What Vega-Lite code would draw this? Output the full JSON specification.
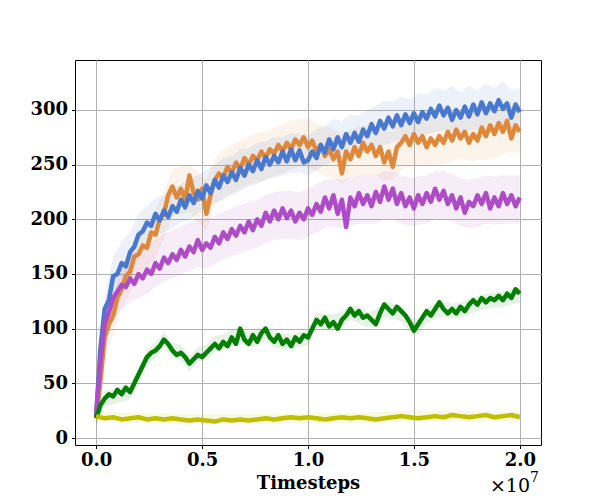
{
  "$schema": "https://vega.github.io/schema/vega-lite/v6.json",
  "width": 466,
  "height": 385,
  "autosize": "none",
  "padding": {"left": 75, "top": 60, "right": 59, "bottom": 55},
  "background": "white",
  "datasets": {
    "lines": [
      {"s":"s1","t":0,"v":18},{"s":"s1","t":0.02,"v":52},{"s":"s1","t":0.04,"v":92},{"s":"s1","t":0.06,"v":104},{"s":"s1","t":0.08,"v":112},{"s":"s1","t":0.1,"v":128},{"s":"s1","t":0.12,"v":136},{"s":"s1","t":0.14,"v":148},{"s":"s1","t":0.16,"v":152},{"s":"s1","t":0.18,"v":166},
      {"s":"s1","t":0.2,"v":168},{"s":"s1","t":0.22,"v":176},{"s":"s1","t":0.24,"v":174},{"s":"s1","t":0.26,"v":188},{"s":"s1","t":0.28,"v":186},{"s":"s1","t":0.3,"v":200},{"s":"s1","t":0.32,"v":205},{"s":"s1","t":0.34,"v":222},{"s":"s1","t":0.36,"v":230},{"s":"s1","t":0.38,"v":220},
      {"s":"s1","t":0.4,"v":228},{"s":"s1","t":0.42,"v":218},{"s":"s1","t":0.44,"v":240},{"s":"s1","t":0.46,"v":224},{"s":"s1","t":0.48,"v":218},{"s":"s1","t":0.5,"v":228},{"s":"s1","t":0.52,"v":205},{"s":"s1","t":0.54,"v":222},{"s":"s1","t":0.56,"v":236},{"s":"s1","t":0.58,"v":242},
      {"s":"s1","t":0.6,"v":238},{"s":"s1","t":0.62,"v":248},{"s":"s1","t":0.64,"v":242},{"s":"s1","t":0.66,"v":252},{"s":"s1","t":0.68,"v":246},{"s":"s1","t":0.7,"v":256},{"s":"s1","t":0.72,"v":250},{"s":"s1","t":0.74,"v":258},{"s":"s1","t":0.76,"v":254},{"s":"s1","t":0.78,"v":262},
      {"s":"s1","t":0.8,"v":256},{"s":"s1","t":0.82,"v":264},{"s":"s1","t":0.84,"v":260},{"s":"s1","t":0.86,"v":268},{"s":"s1","t":0.88,"v":262},{"s":"s1","t":0.9,"v":270},{"s":"s1","t":0.92,"v":264},{"s":"s1","t":0.94,"v":273},{"s":"s1","t":0.96,"v":268},{"s":"s1","t":0.98,"v":275},
      {"s":"s1","t":1,"v":266},{"s":"s1","t":1.02,"v":272},{"s":"s1","t":1.04,"v":262},{"s":"s1","t":1.06,"v":268},{"s":"s1","t":1.08,"v":258},{"s":"s1","t":1.1,"v":264},{"s":"s1","t":1.12,"v":255},{"s":"s1","t":1.14,"v":262},{"s":"s1","t":1.16,"v":242},{"s":"s1","t":1.18,"v":262},
      {"s":"s1","t":1.2,"v":255},{"s":"s1","t":1.22,"v":266},{"s":"s1","t":1.24,"v":258},{"s":"s1","t":1.26,"v":270},{"s":"s1","t":1.28,"v":262},{"s":"s1","t":1.3,"v":268},{"s":"s1","t":1.32,"v":258},{"s":"s1","t":1.34,"v":266},{"s":"s1","t":1.36,"v":252},{"s":"s1","t":1.38,"v":262},
      {"s":"s1","t":1.4,"v":248},{"s":"s1","t":1.42,"v":266},{"s":"s1","t":1.44,"v":270},{"s":"s1","t":1.46,"v":276},{"s":"s1","t":1.48,"v":268},{"s":"s1","t":1.5,"v":278},{"s":"s1","t":1.52,"v":270},{"s":"s1","t":1.54,"v":276},{"s":"s1","t":1.56,"v":266},{"s":"s1","t":1.58,"v":274},
      {"s":"s1","t":1.6,"v":268},{"s":"s1","t":1.62,"v":276},{"s":"s1","t":1.64,"v":270},{"s":"s1","t":1.66,"v":280},{"s":"s1","t":1.68,"v":272},{"s":"s1","t":1.7,"v":282},{"s":"s1","t":1.72,"v":274},{"s":"s1","t":1.74,"v":280},{"s":"s1","t":1.76,"v":270},{"s":"s1","t":1.78,"v":278},
      {"s":"s1","t":1.8,"v":272},{"s":"s1","t":1.82,"v":284},{"s":"s1","t":1.84,"v":276},{"s":"s1","t":1.86,"v":286},{"s":"s1","t":1.88,"v":278},{"s":"s1","t":1.9,"v":288},{"s":"s1","t":1.92,"v":280},{"s":"s1","t":1.94,"v":290},{"s":"s1","t":1.96,"v":274},{"s":"s1","t":1.98,"v":286},
      {"s":"s1","t":2,"v":280},

      {"s":"s2","t":0,"v":20},{"s":"s2","t":0.02,"v":82},{"s":"s2","t":0.04,"v":118},{"s":"s2","t":0.06,"v":126},{"s":"s2","t":0.08,"v":148},{"s":"s2","t":0.1,"v":150},{"s":"s2","t":0.12,"v":160},{"s":"s2","t":0.14,"v":157},{"s":"s2","t":0.16,"v":170},{"s":"s2","t":0.18,"v":175},
      {"s":"s2","t":0.2,"v":186},{"s":"s2","t":0.22,"v":189},{"s":"s2","t":0.24,"v":197},{"s":"s2","t":0.26,"v":194},{"s":"s2","t":0.28,"v":205},{"s":"s2","t":0.3,"v":199},{"s":"s2","t":0.32,"v":208},{"s":"s2","t":0.34,"v":202},{"s":"s2","t":0.36,"v":212},{"s":"s2","t":0.38,"v":207},
      {"s":"s2","t":0.4,"v":218},{"s":"s2","t":0.42,"v":211},{"s":"s2","t":0.44,"v":222},{"s":"s2","t":0.46,"v":215},{"s":"s2","t":0.48,"v":226},{"s":"s2","t":0.5,"v":219},{"s":"s2","t":0.52,"v":231},{"s":"s2","t":0.54,"v":224},{"s":"s2","t":0.56,"v":236},{"s":"s2","t":0.58,"v":229},
      {"s":"s2","t":0.6,"v":240},{"s":"s2","t":0.62,"v":234},{"s":"s2","t":0.64,"v":243},{"s":"s2","t":0.66,"v":236},{"s":"s2","t":0.68,"v":247},{"s":"s2","t":0.7,"v":240},{"s":"s2","t":0.72,"v":250},{"s":"s2","t":0.74,"v":244},{"s":"s2","t":0.76,"v":254},{"s":"s2","t":0.78,"v":246},
      {"s":"s2","t":0.8,"v":257},{"s":"s2","t":0.82,"v":250},{"s":"s2","t":0.84,"v":258},{"s":"s2","t":0.86,"v":252},{"s":"s2","t":0.88,"v":262},{"s":"s2","t":0.9,"v":253},{"s":"s2","t":0.92,"v":264},{"s":"s2","t":0.94,"v":254},{"s":"s2","t":0.96,"v":263},{"s":"s2","t":0.98,"v":252},
      {"s":"s2","t":1,"v":254},{"s":"s2","t":1.02,"v":262},{"s":"s2","t":1.04,"v":256},{"s":"s2","t":1.06,"v":268},{"s":"s2","t":1.08,"v":261},{"s":"s2","t":1.1,"v":273},{"s":"s2","t":1.12,"v":264},{"s":"s2","t":1.14,"v":275},{"s":"s2","t":1.16,"v":266},{"s":"s2","t":1.18,"v":278},
      {"s":"s2","t":1.2,"v":270},{"s":"s2","t":1.22,"v":279},{"s":"s2","t":1.24,"v":271},{"s":"s2","t":1.26,"v":282},{"s":"s2","t":1.28,"v":276},{"s":"s2","t":1.3,"v":287},{"s":"s2","t":1.32,"v":279},{"s":"s2","t":1.34,"v":290},{"s":"s2","t":1.36,"v":283},{"s":"s2","t":1.38,"v":293},
      {"s":"s2","t":1.4,"v":285},{"s":"s2","t":1.42,"v":295},{"s":"s2","t":1.44,"v":286},{"s":"s2","t":1.46,"v":296},{"s":"s2","t":1.48,"v":288},{"s":"s2","t":1.5,"v":297},{"s":"s2","t":1.52,"v":289},{"s":"s2","t":1.54,"v":298},{"s":"s2","t":1.56,"v":292},{"s":"s2","t":1.58,"v":301},
      {"s":"s2","t":1.6,"v":294},{"s":"s2","t":1.62,"v":304},{"s":"s2","t":1.64,"v":295},{"s":"s2","t":1.66,"v":302},{"s":"s2","t":1.68,"v":291},{"s":"s2","t":1.7,"v":300},{"s":"s2","t":1.72,"v":293},{"s":"s2","t":1.74,"v":303},{"s":"s2","t":1.76,"v":294},{"s":"s2","t":1.78,"v":305},
      {"s":"s2","t":1.8,"v":296},{"s":"s2","t":1.82,"v":307},{"s":"s2","t":1.84,"v":297},{"s":"s2","t":1.86,"v":306},{"s":"s2","t":1.88,"v":299},{"s":"s2","t":1.9,"v":309},{"s":"s2","t":1.92,"v":301},{"s":"s2","t":1.94,"v":306},{"s":"s2","t":1.96,"v":293},{"s":"s2","t":1.98,"v":305},
      {"s":"s2","t":2,"v":298},

      {"s":"s3","t":0,"v":22},{"s":"s3","t":0.02,"v":70},{"s":"s3","t":0.04,"v":104},{"s":"s3","t":0.06,"v":115},{"s":"s3","t":0.08,"v":128},{"s":"s3","t":0.1,"v":134},{"s":"s3","t":0.12,"v":140},{"s":"s3","t":0.14,"v":138},{"s":"s3","t":0.16,"v":146},{"s":"s3","t":0.18,"v":141},
      {"s":"s3","t":0.2,"v":150},{"s":"s3","t":0.22,"v":146},{"s":"s3","t":0.24,"v":154},{"s":"s3","t":0.26,"v":150},{"s":"s3","t":0.28,"v":160},{"s":"s3","t":0.3,"v":155},{"s":"s3","t":0.32,"v":165},{"s":"s3","t":0.34,"v":160},{"s":"s3","t":0.36,"v":168},{"s":"s3","t":0.38,"v":163},
      {"s":"s3","t":0.4,"v":172},{"s":"s3","t":0.42,"v":166},{"s":"s3","t":0.44,"v":175},{"s":"s3","t":0.46,"v":170},{"s":"s3","t":0.48,"v":181},{"s":"s3","t":0.5,"v":172},{"s":"s3","t":0.52,"v":178},{"s":"s3","t":0.54,"v":174},{"s":"s3","t":0.56,"v":184},{"s":"s3","t":0.58,"v":178},
      {"s":"s3","t":0.6,"v":188},{"s":"s3","t":0.62,"v":182},{"s":"s3","t":0.64,"v":191},{"s":"s3","t":0.66,"v":185},{"s":"s3","t":0.68,"v":194},{"s":"s3","t":0.7,"v":188},{"s":"s3","t":0.72,"v":198},{"s":"s3","t":0.74,"v":190},{"s":"s3","t":0.76,"v":200},{"s":"s3","t":0.78,"v":194},
      {"s":"s3","t":0.8,"v":206},{"s":"s3","t":0.82,"v":198},{"s":"s3","t":0.84,"v":208},{"s":"s3","t":0.86,"v":200},{"s":"s3","t":0.88,"v":210},{"s":"s3","t":0.9,"v":201},{"s":"s3","t":0.92,"v":208},{"s":"s3","t":0.94,"v":198},{"s":"s3","t":0.96,"v":206},{"s":"s3","t":0.98,"v":200},
      {"s":"s3","t":1,"v":210},{"s":"s3","t":1.02,"v":204},{"s":"s3","t":1.04,"v":214},{"s":"s3","t":1.06,"v":207},{"s":"s3","t":1.08,"v":220},{"s":"s3","t":1.1,"v":210},{"s":"s3","t":1.12,"v":222},{"s":"s3","t":1.14,"v":205},{"s":"s3","t":1.16,"v":218},{"s":"s3","t":1.18,"v":193},
      {"s":"s3","t":1.2,"v":220},{"s":"s3","t":1.22,"v":212},{"s":"s3","t":1.24,"v":224},{"s":"s3","t":1.26,"v":214},{"s":"s3","t":1.28,"v":222},{"s":"s3","t":1.3,"v":212},{"s":"s3","t":1.32,"v":225},{"s":"s3","t":1.34,"v":216},{"s":"s3","t":1.36,"v":230},{"s":"s3","t":1.38,"v":218},
      {"s":"s3","t":1.4,"v":228},{"s":"s3","t":1.42,"v":214},{"s":"s3","t":1.44,"v":224},{"s":"s3","t":1.46,"v":212},{"s":"s3","t":1.48,"v":220},{"s":"s3","t":1.5,"v":210},{"s":"s3","t":1.52,"v":222},{"s":"s3","t":1.54,"v":214},{"s":"s3","t":1.56,"v":224},{"s":"s3","t":1.58,"v":216},
      {"s":"s3","t":1.6,"v":228},{"s":"s3","t":1.62,"v":218},{"s":"s3","t":1.64,"v":226},{"s":"s3","t":1.66,"v":214},{"s":"s3","t":1.68,"v":222},{"s":"s3","t":1.7,"v":210},{"s":"s3","t":1.72,"v":220},{"s":"s3","t":1.74,"v":206},{"s":"s3","t":1.76,"v":216},{"s":"s3","t":1.78,"v":212},
      {"s":"s3","t":1.8,"v":222},{"s":"s3","t":1.82,"v":214},{"s":"s3","t":1.84,"v":224},{"s":"s3","t":1.86,"v":210},{"s":"s3","t":1.88,"v":220},{"s":"s3","t":1.9,"v":212},{"s":"s3","t":1.92,"v":224},{"s":"s3","t":1.94,"v":214},{"s":"s3","t":1.96,"v":222},{"s":"s3","t":1.98,"v":212},
      {"s":"s3","t":2,"v":220},

      {"s":"s4","t":0,"v":18},{"s":"s4","t":0.02,"v":30},{"s":"s4","t":0.04,"v":36},{"s":"s4","t":0.06,"v":40},{"s":"s4","t":0.08,"v":38},{"s":"s4","t":0.1,"v":44},{"s":"s4","t":0.12,"v":40},{"s":"s4","t":0.14,"v":46},{"s":"s4","t":0.16,"v":42},{"s":"s4","t":0.18,"v":50},
      {"s":"s4","t":0.2,"v":58},{"s":"s4","t":0.22,"v":66},{"s":"s4","t":0.24,"v":74},{"s":"s4","t":0.26,"v":78},{"s":"s4","t":0.28,"v":80},{"s":"s4","t":0.3,"v":84},{"s":"s4","t":0.32,"v":90},{"s":"s4","t":0.34,"v":86},{"s":"s4","t":0.36,"v":80},{"s":"s4","t":0.38,"v":76},
      {"s":"s4","t":0.4,"v":78},{"s":"s4","t":0.42,"v":74},{"s":"s4","t":0.44,"v":68},{"s":"s4","t":0.46,"v":72},{"s":"s4","t":0.48,"v":76},{"s":"s4","t":0.5,"v":74},{"s":"s4","t":0.52,"v":78},{"s":"s4","t":0.54,"v":82},{"s":"s4","t":0.56,"v":86},{"s":"s4","t":0.58,"v":82},
      {"s":"s4","t":0.6,"v":88},{"s":"s4","t":0.62,"v":84},{"s":"s4","t":0.64,"v":92},{"s":"s4","t":0.66,"v":86},{"s":"s4","t":0.68,"v":100},{"s":"s4","t":0.7,"v":90},{"s":"s4","t":0.72,"v":86},{"s":"s4","t":0.74,"v":94},{"s":"s4","t":0.76,"v":88},{"s":"s4","t":0.78,"v":96},
      {"s":"s4","t":0.8,"v":100},{"s":"s4","t":0.82,"v":92},{"s":"s4","t":0.84,"v":88},{"s":"s4","t":0.86,"v":94},{"s":"s4","t":0.88,"v":86},{"s":"s4","t":0.9,"v":90},{"s":"s4","t":0.92,"v":84},{"s":"s4","t":0.94,"v":92},{"s":"s4","t":0.96,"v":88},{"s":"s4","t":0.98,"v":94},
      {"s":"s4","t":1,"v":92},{"s":"s4","t":1.02,"v":100},{"s":"s4","t":1.04,"v":108},{"s":"s4","t":1.06,"v":104},{"s":"s4","t":1.08,"v":110},{"s":"s4","t":1.1,"v":102},{"s":"s4","t":1.12,"v":106},{"s":"s4","t":1.14,"v":100},{"s":"s4","t":1.16,"v":108},{"s":"s4","t":1.18,"v":112},
      {"s":"s4","t":1.2,"v":118},{"s":"s4","t":1.22,"v":112},{"s":"s4","t":1.24,"v":116},{"s":"s4","t":1.26,"v":110},{"s":"s4","t":1.28,"v":112},{"s":"s4","t":1.3,"v":108},{"s":"s4","t":1.32,"v":104},{"s":"s4","t":1.34,"v":114},{"s":"s4","t":1.36,"v":122},{"s":"s4","t":1.38,"v":118},
      {"s":"s4","t":1.4,"v":114},{"s":"s4","t":1.42,"v":120},{"s":"s4","t":1.44,"v":116},{"s":"s4","t":1.46,"v":112},{"s":"s4","t":1.48,"v":106},{"s":"s4","t":1.5,"v":98},{"s":"s4","t":1.52,"v":104},{"s":"s4","t":1.54,"v":110},{"s":"s4","t":1.56,"v":116},{"s":"s4","t":1.58,"v":112},
      {"s":"s4","t":1.6,"v":118},{"s":"s4","t":1.62,"v":124},{"s":"s4","t":1.64,"v":118},{"s":"s4","t":1.66,"v":114},{"s":"s4","t":1.68,"v":118},{"s":"s4","t":1.7,"v":114},{"s":"s4","t":1.72,"v":120},{"s":"s4","t":1.74,"v":116},{"s":"s4","t":1.76,"v":122},{"s":"s4","t":1.78,"v":126},
      {"s":"s4","t":1.8,"v":122},{"s":"s4","t":1.82,"v":128},{"s":"s4","t":1.84,"v":124},{"s":"s4","t":1.86,"v":128},{"s":"s4","t":1.88,"v":126},{"s":"s4","t":1.9,"v":130},{"s":"s4","t":1.92,"v":126},{"s":"s4","t":1.94,"v":132},{"s":"s4","t":1.96,"v":128},{"s":"s4","t":1.98,"v":136},
      {"s":"s4","t":2,"v":132},

      {"s":"s5","t":0,"v":20},{"s":"s5","t":0.04,"v":18},{"s":"s5","t":0.08,"v":19},{"s":"s5","t":0.12,"v":17},{"s":"s5","t":0.16,"v":18},{"s":"s5","t":0.2,"v":19},{"s":"s5","t":0.24,"v":17},{"s":"s5","t":0.28,"v":18},{"s":"s5","t":0.32,"v":17},{"s":"s5","t":0.36,"v":18},
      {"s":"s5","t":0.4,"v":17},{"s":"s5","t":0.44,"v":16},{"s":"s5","t":0.48,"v":17},{"s":"s5","t":0.52,"v":16},{"s":"s5","t":0.56,"v":15},{"s":"s5","t":0.6,"v":17},{"s":"s5","t":0.64,"v":16},{"s":"s5","t":0.68,"v":17},{"s":"s5","t":0.72,"v":16},{"s":"s5","t":0.76,"v":17},
      {"s":"s5","t":0.8,"v":18},{"s":"s5","t":0.84,"v":17},{"s":"s5","t":0.88,"v":18},{"s":"s5","t":0.92,"v":19},{"s":"s5","t":0.96,"v":18},{"s":"s5","t":1,"v":19},{"s":"s5","t":1.04,"v":18},{"s":"s5","t":1.08,"v":17},{"s":"s5","t":1.12,"v":18},{"s":"s5","t":1.16,"v":19},
      {"s":"s5","t":1.2,"v":18},{"s":"s5","t":1.24,"v":19},{"s":"s5","t":1.28,"v":18},{"s":"s5","t":1.32,"v":17},{"s":"s5","t":1.36,"v":18},{"s":"s5","t":1.4,"v":19},{"s":"s5","t":1.44,"v":20},{"s":"s5","t":1.48,"v":19},{"s":"s5","t":1.52,"v":18},{"s":"s5","t":1.56,"v":19},
      {"s":"s5","t":1.6,"v":20},{"s":"s5","t":1.64,"v":19},{"s":"s5","t":1.68,"v":21},{"s":"s5","t":1.72,"v":20},{"s":"s5","t":1.76,"v":19},{"s":"s5","t":1.8,"v":20},{"s":"s5","t":1.84,"v":21},{"s":"s5","t":1.88,"v":19},{"s":"s5","t":1.92,"v":20},{"s":"s5","t":1.96,"v":21},
      {"s":"s5","t":2,"v":19}
    ],
    "bands": [
      {"s":"s1","t":0,"lo":12,"hi":26},{"s":"s1","t":0.04,"lo":75,"hi":110},{"s":"s1","t":0.08,"lo":95,"hi":130},{"s":"s1","t":0.12,"lo":118,"hi":155},{"s":"s1","t":0.16,"lo":133,"hi":172},{"s":"s1","t":0.2,"lo":148,"hi":188},{"s":"s1","t":0.24,"lo":155,"hi":198},{"s":"s1","t":0.28,"lo":165,"hi":208},{"s":"s1","t":0.32,"lo":183,"hi":226},{"s":"s1","t":0.36,"lo":203,"hi":246},
      {"s":"s1","t":0.4,"lo":205,"hi":248},{"s":"s1","t":0.44,"lo":206,"hi":250},{"s":"s1","t":0.48,"lo":198,"hi":243},{"s":"s1","t":0.52,"lo":190,"hi":236},{"s":"s1","t":0.56,"lo":212,"hi":255},{"s":"s1","t":0.6,"lo":220,"hi":264},{"s":"s1","t":0.64,"lo":224,"hi":268},{"s":"s1","t":0.68,"lo":228,"hi":272},{"s":"s1","t":0.72,"lo":232,"hi":276},{"s":"s1","t":0.76,"lo":234,"hi":279},
      {"s":"s1","t":0.8,"lo":236,"hi":280},{"s":"s1","t":0.84,"lo":240,"hi":284},{"s":"s1","t":0.88,"lo":242,"hi":287},{"s":"s1","t":0.92,"lo":246,"hi":290},{"s":"s1","t":0.96,"lo":248,"hi":292},{"s":"s1","t":1,"lo":247,"hi":292},{"s":"s1","t":1.04,"lo":244,"hi":288},{"s":"s1","t":1.08,"lo":240,"hi":285},{"s":"s1","t":1.12,"lo":238,"hi":282},{"s":"s1","t":1.16,"lo":232,"hi":278},
      {"s":"s1","t":1.2,"lo":238,"hi":282},{"s":"s1","t":1.24,"lo":240,"hi":285},{"s":"s1","t":1.28,"lo":240,"hi":286},{"s":"s1","t":1.32,"lo":240,"hi":284},{"s":"s1","t":1.36,"lo":235,"hi":281},{"s":"s1","t":1.4,"lo":236,"hi":280},{"s":"s1","t":1.44,"lo":245,"hi":290},{"s":"s1","t":1.48,"lo":250,"hi":294},{"s":"s1","t":1.52,"lo":249,"hi":295},{"s":"s1","t":1.56,"lo":250,"hi":294},
      {"s":"s1","t":1.6,"lo":249,"hi":295},{"s":"s1","t":1.64,"lo":250,"hi":294},{"s":"s1","t":1.68,"lo":253,"hi":298},{"s":"s1","t":1.72,"lo":256,"hi":300},{"s":"s1","t":1.76,"lo":253,"hi":299},{"s":"s1","t":1.8,"lo":254,"hi":298},{"s":"s1","t":1.84,"lo":255,"hi":301},{"s":"s1","t":1.88,"lo":256,"hi":300},{"s":"s1","t":1.92,"lo":259,"hi":305},{"s":"s1","t":1.96,"lo":262,"hi":306},
      {"s":"s1","t":2,"lo":260,"hi":304},

      {"s":"s2","t":0,"lo":12,"hi":28},{"s":"s2","t":0.04,"lo":95,"hi":130},{"s":"s2","t":0.08,"lo":125,"hi":165},{"s":"s2","t":0.12,"lo":140,"hi":180},{"s":"s2","t":0.16,"lo":150,"hi":188},{"s":"s2","t":0.2,"lo":165,"hi":205},{"s":"s2","t":0.24,"lo":178,"hi":212},{"s":"s2","t":0.28,"lo":184,"hi":220},{"s":"s2","t":0.32,"lo":188,"hi":222},{"s":"s2","t":0.36,"lo":192,"hi":228},
      {"s":"s2","t":0.4,"lo":197,"hi":232},{"s":"s2","t":0.44,"lo":200,"hi":238},{"s":"s2","t":0.48,"lo":205,"hi":240},{"s":"s2","t":0.52,"lo":210,"hi":246},{"s":"s2","t":0.56,"lo":215,"hi":250},{"s":"s2","t":0.6,"lo":218,"hi":256},{"s":"s2","t":0.64,"lo":222,"hi":258},{"s":"s2","t":0.68,"lo":226,"hi":264},{"s":"s2","t":0.72,"lo":230,"hi":265},{"s":"s2","t":0.76,"lo":232,"hi":270},
      {"s":"s2","t":0.8,"lo":236,"hi":271},{"s":"s2","t":0.84,"lo":238,"hi":275},{"s":"s2","t":0.88,"lo":240,"hi":275},{"s":"s2","t":0.92,"lo":242,"hi":279},{"s":"s2","t":0.96,"lo":243,"hi":278},{"s":"s2","t":1,"lo":240,"hi":276},{"s":"s2","t":1.04,"lo":245,"hi":282},{"s":"s2","t":1.08,"lo":250,"hi":285},{"s":"s2","t":1.12,"lo":252,"hi":292},{"s":"s2","t":1.16,"lo":255,"hi":290},
      {"s":"s2","t":1.2,"lo":256,"hi":296},{"s":"s2","t":1.24,"lo":258,"hi":295},{"s":"s2","t":1.28,"lo":262,"hi":300},{"s":"s2","t":1.32,"lo":266,"hi":304},{"s":"s2","t":1.36,"lo":268,"hi":308},{"s":"s2","t":1.4,"lo":271,"hi":308},{"s":"s2","t":1.44,"lo":272,"hi":312},{"s":"s2","t":1.48,"lo":274,"hi":310},{"s":"s2","t":1.52,"lo":276,"hi":315},{"s":"s2","t":1.56,"lo":278,"hi":314},
      {"s":"s2","t":1.6,"lo":280,"hi":320},{"s":"s2","t":1.64,"lo":282,"hi":318},{"s":"s2","t":1.68,"lo":280,"hi":322},{"s":"s2","t":1.72,"lo":280,"hi":316},{"s":"s2","t":1.76,"lo":281,"hi":322},{"s":"s2","t":1.8,"lo":282,"hi":318},{"s":"s2","t":1.84,"lo":283,"hi":324},{"s":"s2","t":1.88,"lo":284,"hi":320},{"s":"s2","t":1.92,"lo":286,"hi":326},{"s":"s2","t":1.96,"lo":283,"hi":318},
      {"s":"s2","t":2,"lo":282,"hi":320},

      {"s":"s3","t":0,"lo":14,"hi":30},{"s":"s3","t":0.04,"lo":85,"hi":122},{"s":"s3","t":0.08,"lo":108,"hi":148},{"s":"s3","t":0.12,"lo":118,"hi":160},{"s":"s3","t":0.16,"lo":124,"hi":167},{"s":"s3","t":0.2,"lo":128,"hi":172},{"s":"s3","t":0.24,"lo":132,"hi":176},{"s":"s3","t":0.28,"lo":138,"hi":182},{"s":"s3","t":0.32,"lo":143,"hi":187},{"s":"s3","t":0.36,"lo":146,"hi":190},
      {"s":"s3","t":0.4,"lo":150,"hi":194},{"s":"s3","t":0.44,"lo":153,"hi":197},{"s":"s3","t":0.48,"lo":156,"hi":200},{"s":"s3","t":0.52,"lo":155,"hi":201},{"s":"s3","t":0.56,"lo":159,"hi":203},{"s":"s3","t":0.6,"lo":163,"hi":207},{"s":"s3","t":0.64,"lo":166,"hi":210},{"s":"s3","t":0.68,"lo":169,"hi":213},{"s":"s3","t":0.72,"lo":172,"hi":216},{"s":"s3","t":0.76,"lo":174,"hi":218},
      {"s":"s3","t":0.8,"lo":178,"hi":222},{"s":"s3","t":0.84,"lo":181,"hi":225},{"s":"s3","t":0.88,"lo":182,"hi":226},{"s":"s3","t":0.92,"lo":182,"hi":226},{"s":"s3","t":0.96,"lo":181,"hi":225},{"s":"s3","t":1,"lo":184,"hi":228},{"s":"s3","t":1.04,"lo":188,"hi":232},{"s":"s3","t":1.08,"lo":192,"hi":236},{"s":"s3","t":1.12,"lo":193,"hi":237},{"s":"s3","t":1.16,"lo":192,"hi":236},
      {"s":"s3","t":1.2,"lo":194,"hi":238},{"s":"s3","t":1.24,"lo":196,"hi":240},{"s":"s3","t":1.28,"lo":196,"hi":240},{"s":"s3","t":1.32,"lo":196,"hi":240},{"s":"s3","t":1.36,"lo":200,"hi":244},{"s":"s3","t":1.4,"lo":200,"hi":244},{"s":"s3","t":1.44,"lo":196,"hi":240},{"s":"s3","t":1.48,"lo":194,"hi":238},{"s":"s3","t":1.52,"lo":195,"hi":239},{"s":"s3","t":1.56,"lo":196,"hi":240},
      {"s":"s3","t":1.6,"lo":200,"hi":244},{"s":"s3","t":1.64,"lo":200,"hi":244},{"s":"s3","t":1.68,"lo":198,"hi":242},{"s":"s3","t":1.72,"lo":194,"hi":238},{"s":"s3","t":1.76,"lo":192,"hi":236},{"s":"s3","t":1.8,"lo":193,"hi":237},{"s":"s3","t":1.84,"lo":196,"hi":240},{"s":"s3","t":1.88,"lo":195,"hi":239},{"s":"s3","t":1.92,"lo":196,"hi":240},{"s":"s3","t":1.96,"lo":196,"hi":240},
      {"s":"s3","t":2,"lo":196,"hi":240},

      {"s":"s4","t":0,"lo":11,"hi":25},{"s":"s4","t":0.04,"lo":29,"hi":43},{"s":"s4","t":0.08,"lo":31,"hi":45},{"s":"s4","t":0.12,"lo":33,"hi":47},{"s":"s4","t":0.16,"lo":35,"hi":49},{"s":"s4","t":0.2,"lo":51,"hi":65},{"s":"s4","t":0.24,"lo":67,"hi":81},{"s":"s4","t":0.28,"lo":73,"hi":87},{"s":"s4","t":0.32,"lo":83,"hi":97},{"s":"s4","t":0.36,"lo":73,"hi":87},
      {"s":"s4","t":0.4,"lo":71,"hi":85},{"s":"s4","t":0.44,"lo":61,"hi":75},{"s":"s4","t":0.48,"lo":69,"hi":83},{"s":"s4","t":0.52,"lo":71,"hi":85},{"s":"s4","t":0.56,"lo":79,"hi":93},{"s":"s4","t":0.6,"lo":81,"hi":95},{"s":"s4","t":0.64,"lo":85,"hi":99},{"s":"s4","t":0.68,"lo":87,"hi":101},{"s":"s4","t":0.72,"lo":83,"hi":97},{"s":"s4","t":0.76,"lo":85,"hi":99},
      {"s":"s4","t":0.8,"lo":89,"hi":103},{"s":"s4","t":0.84,"lo":83,"hi":97},{"s":"s4","t":0.88,"lo":81,"hi":95},{"s":"s4","t":0.92,"lo":81,"hi":95},{"s":"s4","t":0.96,"lo":83,"hi":97},{"s":"s4","t":1,"lo":85,"hi":99},{"s":"s4","t":1.04,"lo":101,"hi":115},{"s":"s4","t":1.08,"lo":99,"hi":113},{"s":"s4","t":1.12,"lo":99,"hi":113},{"s":"s4","t":1.16,"lo":101,"hi":115},
      {"s":"s4","t":1.2,"lo":108,"hi":122},{"s":"s4","t":1.24,"lo":105,"hi":119},{"s":"s4","t":1.28,"lo":101,"hi":115},{"s":"s4","t":1.32,"lo":103,"hi":117},{"s":"s4","t":1.36,"lo":111,"hi":125},{"s":"s4","t":1.4,"lo":109,"hi":123},{"s":"s4","t":1.44,"lo":107,"hi":121},{"s":"s4","t":1.48,"lo":97,"hi":111},{"s":"s4","t":1.52,"lo":95,"hi":109},{"s":"s4","t":1.56,"lo":105,"hi":119},
      {"s":"s4","t":1.6,"lo":109,"hi":123},{"s":"s4","t":1.64,"lo":111,"hi":125},{"s":"s4","t":1.68,"lo":109,"hi":123},{"s":"s4","t":1.72,"lo":110,"hi":124},{"s":"s4","t":1.76,"lo":113,"hi":127},{"s":"s4","t":1.8,"lo":116,"hi":130},{"s":"s4","t":1.84,"lo":118,"hi":132},{"s":"s4","t":1.88,"lo":119,"hi":133},{"s":"s4","t":1.92,"lo":120,"hi":134},{"s":"s4","t":1.96,"lo":122,"hi":136},
      {"s":"s4","t":2,"lo":124,"hi":138},

      {"s":"s5","t":0,"lo":15,"hi":24},{"s":"s5","t":0.4,"lo":13,"hi":22},{"s":"s5","t":0.8,"lo":13,"hi":22},{"s":"s5","t":1.2,"lo":14,"hi":23},{"s":"s5","t":1.6,"lo":15,"hi":25},{"s":"s5","t":2,"lo":15,"hi":24}
    ],
    "notes": [
      {"part": "base", "label": "×10"},
      {"part": "exp", "label": "7"}
    ]
  },
  "config": {
    "view": {"stroke": "black", "strokeWidth": 1},
    "axis": {
      "domain": false,
      "grid": true,
      "gridColor": "#b0b0b0",
      "gridWidth": 1,
      "tickColor": "black",
      "tickSize": 3.5,
      "labelFont": "DejaVu Serif",
      "labelFontWeight": "bold",
      "labelFontSize": 18,
      "labelColor": "black",
      "labelFlush": false,
      "labelOverlap": false,
      "titleFont": "DejaVu Serif",
      "titleFontWeight": "bold",
      "titleFontSize": 18,
      "titleColor": "black"
    }
  },
  "layer": [
    {
      "data": {"name": "bands"},
      "mark": {"type": "area", "opacity": 0.1, "clip": true},
      "encoding": {
        "x": {
          "field": "t", "type": "quantitative",
          "scale": {"domain": [-0.1, 2.1], "nice": false, "zero": false},
          "axis": {"values": [0, 0.5, 1, 1.5, 2], "format": ".1f", "title": "Timesteps", "labelPadding": 3, "titlePadding": 5}
        },
        "y": {
          "field": "lo", "type": "quantitative",
          "scale": {"domain": [-6.4, 345.7], "nice": false, "zero": false},
          "axis": {"values": [0, 50, 100, 150, 200, 250, 300], "title": null, "labelPadding": 4}
        },
        "y2": {"field": "hi"},
        "color": {
          "field": "s", "type": "nominal",
          "scale": {"domain": ["s1", "s2", "s3", "s4", "s5"], "range": ["#e0883a", "#4878cf", "#ae4bc6", "#007f00", "#bfbf00"]},
          "legend": null
        }
      }
    },
    {
      "data": {"name": "lines"},
      "mark": {"type": "line", "strokeWidth": 4.5, "strokeJoin": "round", "clip": true},
      "encoding": {
        "x": {"field": "t", "type": "quantitative"},
        "y": {"field": "v", "type": "quantitative"},
        "color": {"field": "s", "type": "nominal", "legend": null}
      }
    },
    {
      "data": {"name": "notes"},
      "transform": [{"filter": "datum.part === 'base'"}],
      "mark": {"type": "text", "align": "right", "baseline": "middle", "font": "DejaVu Serif", "fontSize": 19, "color": "black", "dx": -11},
      "encoding": {
        "x": {"datum": 2.1, "type": "quantitative"},
        "y": {"datum": -44, "type": "quantitative"},
        "text": {"field": "label"}
      }
    },
    {
      "data": {"name": "notes"},
      "transform": [{"filter": "datum.part === 'exp'"}],
      "mark": {"type": "text", "align": "right", "baseline": "middle", "font": "DejaVu Serif", "fontSize": 14, "color": "black", "dx": -2, "dy": -8},
      "encoding": {
        "x": {"datum": 2.1, "type": "quantitative"},
        "y": {"datum": -44, "type": "quantitative"},
        "text": {"field": "label"}
      }
    }
  ]
}
